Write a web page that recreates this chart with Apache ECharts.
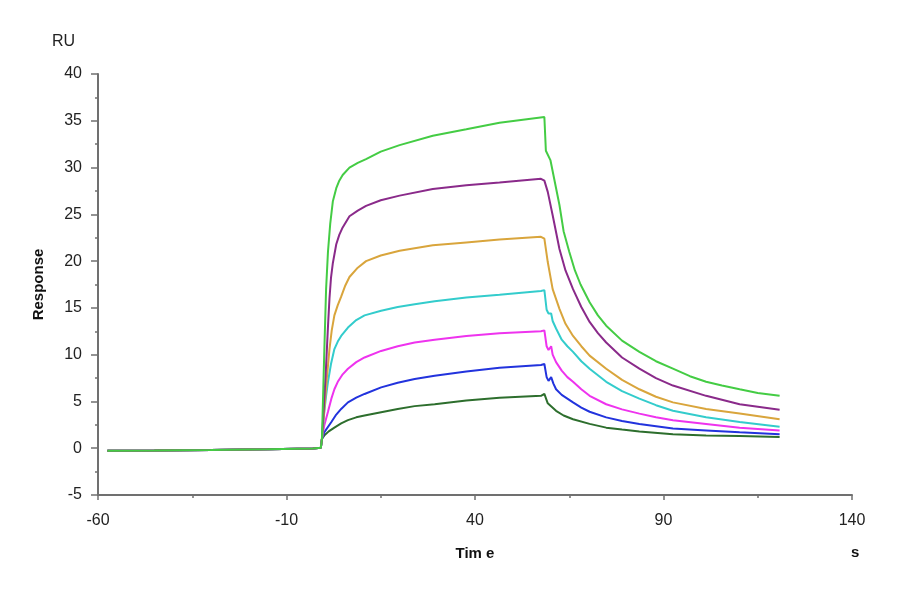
<!DOCTYPE html>
<html>
<head>
<meta charset="utf-8">
<script src="https://cdn.jsdelivr.net/npm/echarts@6/dist/echarts.min.js"></script>
<style>html,body{margin:0;padding:0;background:#fff}#c{width:900px;height:594px}</style>
</head>
<body>
<div id="c"></div>
<script>
var xTicks = [-60, -10, 40, 90, 140];
var yTicks = [-5, 0, 5, 10, 15, 20, 25, 30, 35, 40];
var baseline = [[-57.5,-0.28],[-45,-0.25],[-30,-0.2],[-15,-0.12],[-3,-0.02],[-0.9,0.05]];

var darkGreen = [[-0.6,1.0],[0,1.35],[1.2,1.8],[2.7,2.2],[4.5,2.65],[6.3,3.0],[8.5,3.3],[10.7,3.5],[15.1,3.85],[19.5,4.2],[24,4.5],[29.3,4.7],[37.7,5.1],[46.5,5.4],[57.5,5.6],[58.4,5.8],[59.3,4.8],[61.5,4.0],[63.5,3.5],[66,3.1],[70.4,2.6],[74.8,2.2],[79,2.0],[83.6,1.8],[92.5,1.5],[101.3,1.35],[110.2,1.3],[120.8,1.2]];
var blue = [[-0.6,1.0],[0,1.7],[1.9,2.8],[3.2,3.6],[4.5,4.2],[6.3,4.9],[8.5,5.4],[10.7,5.8],[15.1,6.5],[19.5,7.0],[24,7.4],[29.3,7.75],[37.7,8.2],[46.5,8.6],[57.5,8.9],[58.4,9.0],[59.0,7.6],[59.5,7.2],[60.2,7.6],[60.8,6.9],[61.5,6.3],[63,5.7],[64.5,5.3],[66,4.9],[68.2,4.35],[70.4,3.9],[74.8,3.3],[79,2.9],[83.6,2.6],[92.5,2.1],[101.3,1.9],[110.2,1.7],[120.8,1.5]];
var magenta = [[-0.6,1.0],[0,2.4],[1.0,3.9],[1.9,5.3],[2.7,6.3],[3.6,7.1],[4.9,7.9],[6.3,8.5],[8.5,9.2],[10.7,9.7],[15.1,10.4],[19.5,10.9],[24,11.3],[29.3,11.6],[37.7,12.0],[46.5,12.3],[57.5,12.5],[58.4,12.6],[59.0,10.9],[59.5,10.5],[60.2,10.9],[60.6,10.0],[61.5,9.2],[63,8.3],[64.5,7.6],[66,7.1],[68.2,6.3],[70.4,5.6],[74.8,4.7],[79,4.15],[83.6,3.7],[88,3.3],[92.5,3.0],[101.3,2.6],[110.2,2.2],[120.8,1.9]];
var cyan = [[-0.6,1.0],[0,3.8],[0.5,5.6],[1.0,7.1],[1.8,9.0],[2.7,10.6],[3.6,11.4],[4.5,12.0],[6.3,12.9],[8.5,13.7],[10.7,14.2],[15.1,14.7],[19.5,15.1],[24,15.4],[29.3,15.7],[37.7,16.1],[46.5,16.4],[57.5,16.8],[58.4,16.9],[59.0,14.8],[59.5,14.4],[60.2,14.4],[60.6,13.6],[61.5,12.8],[63,11.6],[64.5,10.9],[66,10.3],[68.2,9.3],[70.4,8.5],[74.8,7.1],[79,6.1],[83.6,5.3],[88,4.6],[92.5,4.0],[101.3,3.3],[110.2,2.8],[120.8,2.3]];
var orange = [[-0.6,1.0],[0,4.0],[0.7,7.5],[1.4,10.6],[2.0,12.6],[2.7,14.2],[3.6,15.3],[4.5,16.2],[5.6,17.4],[6.7,18.3],[8.9,19.3],[11.1,20.0],[15,20.6],[20,21.1],[28.8,21.7],[37.7,22.0],[46.5,22.3],[57.5,22.6],[58.4,22.4],[59.3,19.9],[60.6,17.0],[62.4,14.9],[64,13.3],[66,12.0],[68.2,10.9],[70.4,9.9],[74.8,8.5],[79,7.3],[83.6,6.3],[88,5.5],[92.5,4.9],[101.3,4.2],[110.2,3.7],[120.8,3.1]];
var purple = [[-0.6,1.0],[0,5.0],[0.5,8.8],[1.0,13.0],[1.4,16.0],[1.8,18.2],[2.3,19.8],[3.2,21.8],[4.0,22.8],[4.9,23.6],[6.7,24.8],[8.9,25.4],[11.1,25.9],[15,26.5],[20,27.0],[28.8,27.7],[37.7,28.1],[46.5,28.4],[57.5,28.8],[58.4,28.6],[59.3,27.4],[60.6,24.9],[62.4,21.3],[64,19.0],[66,17.0],[68.2,15.1],[70.4,13.5],[72.6,12.3],[74.8,11.3],[79,9.7],[83.6,8.5],[88,7.5],[92.5,6.7],[101.3,5.6],[110.2,4.7],[120.8,4.1]];
var green = [[-0.6,1.0],[0,10.0],[0.5,17.0],[1.0,21.0],[1.6,24.0],[2.3,26.4],[3.2,27.8],[4.0,28.6],[4.9,29.2],[6.7,30.0],[8.9,30.5],[11.1,30.9],[15,31.7],[20,32.4],[28.8,33.4],[37.7,34.1],[46.5,34.8],[58.4,35.4],[58.8,31.8],[60,30.8],[61,28.8],[62.4,26.0],[63.5,23.2],[65,21.0],[66.5,19.0],[68,17.5],[70.4,15.6],[72.6,14.2],[74.8,13.1],[79,11.5],[83.6,10.3],[88,9.3],[92.5,8.5],[97,7.7],[101.3,7.1],[105.5,6.7],[110.2,6.3],[115,5.9],[120.8,5.6]];

var seriesDefs = [
  {name:'c7', data: darkGreen, color:'#2d6e2d'},
  {name:'c6', data: blue, color:'#2233dd'},
  {name:'c5', data: magenta, color:'#ee33ee'},
  {name:'c4', data: cyan, color:'#33cccc'},
  {name:'c3', data: orange, color:'#d9a53c'},
  {name:'c2', data: purple, color:'#8a2a8a'},
  {name:'c1', data: green, color:'#44cc44'}
];

var chart = echarts.init(document.getElementById('c'));
var axisCol = '#707070';
var font = 'Liberation Sans, Arial, sans-serif';
chart.setOption({
  animation: false,
  backgroundColor: '#fff',
  grid: {left: 98, right: 48, top: 74, bottom: 99},
  xAxis: {
    type: 'value', min: xTicks[0], max: xTicks[xTicks.length-1], interval: 50,
    axisLine: {onZero: false, lineStyle: {color: axisCol, width: 2}},
    axisTick: {show: true, inside: false, length: 5, lineStyle: {color: axisCol, width: 1.5}},
    minorTick: {show: true, splitNumber: 2, length: 3, lineStyle: {color: axisCol, width: 1.5}},
    splitLine: {show: false},
    axisLabel: {color: '#222', fontSize: 16, fontFamily: font, margin: 18},
    name: 'Tim e', nameLocation: 'middle', nameGap: 51,
    nameTextStyle: {color: '#111', fontSize: 15, fontWeight: 'bold', fontFamily: font}
  },
  yAxis: {
    type: 'value', min: yTicks[0], max: yTicks[yTicks.length-1], interval: 5,
    axisLine: {onZero: false, lineStyle: {color: axisCol, width: 2}},
    axisTick: {show: true, length: 7, lineStyle: {color: axisCol, width: 1.5}},
    minorTick: {show: true, splitNumber: 2, length: 3, lineStyle: {color: axisCol, width: 1.5}},
    splitLine: {show: false},
    axisLabel: {color: '#222', fontSize: 16, fontFamily: font, margin: 16},
    name: 'Response', nameLocation: 'middle', nameGap: 52,
    nameTextStyle: {color: '#111', fontSize: 15, fontWeight: 'bold', fontFamily: font}
  },
  graphic: [
    {type: 'text', left: 52, top: 34, style: {text: 'RU', fill: '#222', font: '16px ' + font}},
    {type: 'text', left: 851, top: 545, style: {text: 's', fill: '#111', font: 'bold 15px ' + font}}
  ],
  series: seriesDefs.map(function (s) {
    return {
      name: s.name, type: 'line', showSymbol: false, symbol: 'none',
      smooth: false,
      data: baseline.concat(s.data),
      lineStyle: {color: s.color, width: 2},
      itemStyle: {color: s.color}
    };
  })
});
</script>
</body>
</html>
